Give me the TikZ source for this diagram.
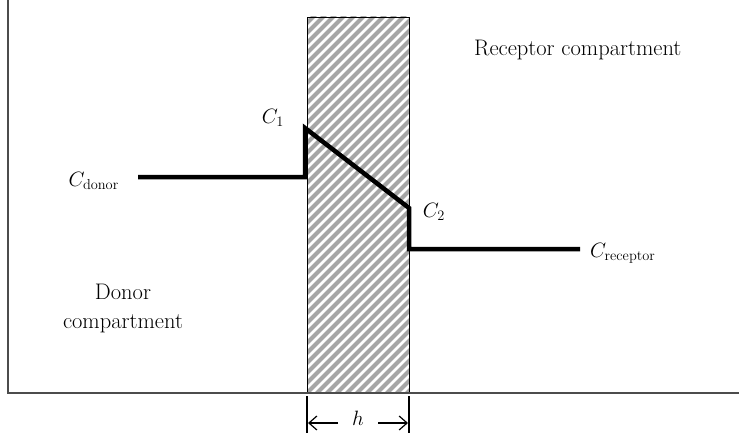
\documentclass[tikz,border=0pt]{standalone}
\usetikzlibrary{arrows.meta}
\begin{document}
\begin{tikzpicture}[x=1pt,y=-1pt,
  lbl/.style={inner sep=0pt, font=\fontsize{22.5}{29}\selectfont},
  axis/.style={line width=2pt, draw=black!70},
  profile/.style={line width=4.5pt, line join=miter, line cap=butt},
  dim/.style={line width=1.2pt},
  hatchline/.style={line width=4pt, draw=black!35}]
\useasboundingbox (0,0) rectangle (739,433);
% membrane hatch
\begin{scope}
\clip (307,17) rectangle (409,393);
\foreach \i in {-50,...,50} {
  \draw[hatchline] (300+10*\i,400) -- (300+10*\i+400,0);
}
\end{scope}
\node[draw=black, line width=1pt, minimum width=102pt, minimum height=376pt, inner sep=0pt, anchor=north west] (mem) at (307,17) {};
% axes
\coordinate (top) at (8,0);
\coordinate (origin) at (8,393);
\coordinate (xend) at (739,393);
\draw[axis] (top) -- (origin) -- (xend);
% profile
\coordinate (d0) at (138,177);
\coordinate (d1) at (305,177);
\coordinate (c1) at (305,128);
\coordinate (c2) at (409,208);
\coordinate (r0) at (409,249);
\coordinate (r1) at (580,249);
\draw[profile] (d0) -- (d1) -- (c1) -- (c2) -- (r0) -- (r1);
% labels
\node[lbl] (lc1) at (273,118) {$C_1$};
\node[lbl] (lc2) at (434,212) {$C_2$};
\node[lbl, anchor=east] (ldonor) at (119,181) {$C_{\mathrm{donor}}$};
\node[lbl, anchor=west] (lrec) at (590,253) {$C_{\mathrm{receptor}}$};
\node[lbl, align=center] (dcomp) at (123,309) {Donor\\compartment};
\node[lbl, anchor=west] (rcomp) at (474,50) {Receptor compartment};
% dimension
\coordinate (t1a) at (307,396);
\coordinate (t1b) at (307,433);
\coordinate (t2a) at (409,396);
\coordinate (t2b) at (409,433);
\draw[dim] (t1a) -- (t1b);
\draw[dim] (t2a) -- (t2b);
\node[lbl] (h) at (358,418) {$h$};
\coordinate (a1) at (338,423);
\coordinate (a2) at (378,423);
\coordinate (e1) at (308,423);
\coordinate (e2) at (408,423);
\draw[dim, -{Straight Barb[length=8pt,width=14pt]}] (a1) -- (e1);
\draw[dim, -{Straight Barb[length=8pt,width=14pt]}] (a2) -- (e2);
\end{tikzpicture}
\end{document}
